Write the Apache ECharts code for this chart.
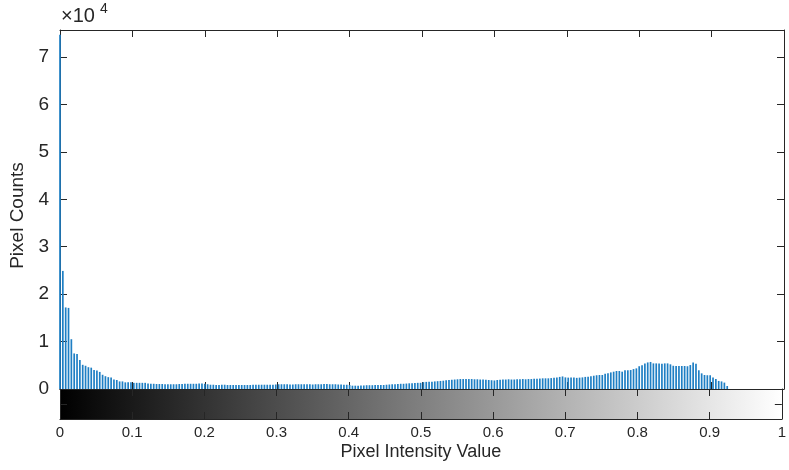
<!DOCTYPE html>
<html>
<head>
<meta charset="utf-8">
<script src="https://cdn.jsdelivr.net/npm/echarts@6/dist/echarts.min.js"></script>
<style>
  html, body { margin: 0; padding: 0; background: #fff; }
  #chart { width: 789px; height: 470px; }
</style>
</head>
<body>
<div id="chart"></div>
<script>
// histogram counts, 256 bins over [0, 1]; split into runs by intensity band
const countsDark = [74700, 24900, 17200, 17100, 10500, 7500, 7400, 6100, 5100, 4900,
  4600, 4500, 4000, 3900, 3600, 3000, 2700, 2500, 2400, 2000,
  1900, 1600, 1600, 1400, 1400, 1400, 1300, 1300, 1300, 1300, 1300]
const countsLow = [1150, 1100, 1100, 1050, 1050, 1050, 1000, 1000, 1000, 1000,
  1000, 1050, 1050, 1100, 1100, 1100, 1100, 1100, 1150, 1150, 1100]
const countsMidLow = [1000, 900, 900, 850, 850, 900, 900, 850, 850, 850,
  850, 850, 850, 850, 850, 850, 900, 900, 900, 900,
  900, 900, 900, 900, 950]
const countsMid = [1000, 1000, 1000, 1000, 950, 950, 1000, 1000, 1000, 1000,
  1000, 1000, 950, 1000, 1000, 1000, 1050, 1050, 1000, 1000,
  1000, 950, 950, 900, 900, 850]
const countsDip = [700, 700, 700, 750, 750, 800, 800, 800, 850, 850, 850, 850, 900,
  950, 1000, 1000, 1050, 1100, 1100, 1150, 1200, 1200, 1250, 1300, 1300]
const countsMidHigh = [1450, 1500, 1550, 1550, 1600, 1650, 1700, 1750, 1850, 1900,
  1950, 2000, 2050, 2100, 2100, 2100, 2100, 2100, 2050, 2050,
  2000, 2000, 1950, 1900, 1850, 1800]
const countsLight = [1900, 1950, 2000, 2000, 2050, 2000, 2000, 2050, 2050, 2100,
  2050, 2100, 2100, 2150, 2150, 2200, 2250, 2250, 2250, 2300,
  2350, 2450, 2550, 2650, 2450,
  2400, 2400, 2400, 2350, 2400, 2450, 2550, 2600, 2700, 2800, 2900]
const countsBright = [2950, 2950, 3230, 3300, 3500, 3650, 3800, 3800, 3650, 3950,
  3950, 4000, 4200, 4350, 4800, 5000, 5400, 5600, 5700, 5400,
  5400, 5400, 5350, 5400, 5400, 5200, 4900, 4850, 4850, 4850,
  4850, 4800, 5050, 5600, 5300, 3950, 3300, 2950, 2900, 2900,
  2450, 2100, 1700, 1600, 1350, 630]
const countsWhite = [0, 0, 0, 0, 0, 0, 0, 0, 0, 0, 0, 0, 0, 0, 0, 0, 0, 0, 0, 0]

const xTickLabels = ['0', '0.1', '0.2', '0.3', '0.4', '0.5', '0.6', '0.7', '0.8', '0.9', '1']
const yTickLabels = ['0', '1', '2', '3', '4', '5', '6', '7']

const counts = [].concat(countsDark, countsLow, countsMidLow, countsMid, countsDip,
  countsMidHigh, countsLight, countsBright, countsWhite)
const nBins = counts.length
const histData = counts.map((c, i) => [i / (nBins - 1), c])

const textColor = '#262626'
const font = 'Liberation Sans, Arial, Helvetica, sans-serif'

const chart = echarts.init(document.getElementById('chart'), null, { renderer: 'canvas' })

const tickStyle = { show: true, inside: true, length: 7, lineStyle: { color: textColor, width: 1 } }
const lineStyle = { show: true, onZero: false, lineStyle: { color: textColor, width: 1 } }

chart.setOption({
  animation: false,
  textStyle: { fontFamily: font },
  graphic: [
    { type: 'text', left: 61, top: 6, z: 10, style: { text: '×10', fontSize: 20, fontFamily: font, fill: textColor } },
    { type: 'text', left: 100, top: 2, z: 10, style: { text: '4', fontSize: 14, fontFamily: font, fill: textColor } }
  ],
  grid: [
    { left: 60, right: 5, top: 30, height: 359 },
    { left: 60, right: 5, top: 389, height: 30 }
  ],
  xAxis: [
    {
      gridIndex: 0, type: 'value', min: 0, max: 1, interval: 0.1, position: 'bottom', z: 5,
      axisLine: lineStyle, axisTick: tickStyle, axisLabel: { show: false }, splitLine: { show: false }
    },
    {
      gridIndex: 0, type: 'value', min: 0, max: 1, interval: 0.1, position: 'top', z: 5,
      axisLine: lineStyle, axisTick: tickStyle, axisLabel: { show: false }, splitLine: { show: false }
    },
    {
      gridIndex: 1, type: 'value', min: 0, max: 1, interval: 0.1, position: 'bottom', z: 5,
      axisLine: lineStyle, axisTick: tickStyle, splitLine: { show: false },
      axisLabel: {
        margin: 6, fontSize: 15, color: textColor, fontFamily: font,
        formatter: v => xTickLabels[Math.round(v * 10)]
      },
      name: 'Pixel Intensity Value', nameLocation: 'middle', nameGap: 24,
      nameTextStyle: { fontSize: 18, color: textColor, fontFamily: font }
    },
    {
      gridIndex: 1, type: 'value', min: 0, max: 1, interval: 0.1, position: 'top', z: 5,
      axisLine: lineStyle, axisTick: tickStyle, axisLabel: { show: false }, splitLine: { show: false }
    }
  ],
  yAxis: [
    {
      gridIndex: 0, type: 'value', min: 0, max: 75700, interval: 10000, position: 'left', z: 5,
      axisLine: lineStyle, axisTick: tickStyle, splitLine: { show: false },
      axisLabel: {
        margin: 11, fontSize: 19, color: textColor, fontFamily: font, showMaxLabel: false,
        formatter: v => yTickLabels[Math.round(v / 10000)] || ''
      },
      name: 'Pixel Counts', nameLocation: 'middle', nameGap: 30, nameRotate: 90,
      nameTextStyle: { fontSize: 19, color: textColor, fontFamily: font, padding: [0, 12, 0, 0] }
    },
    {
      gridIndex: 0, type: 'value', min: 0, max: 75700, interval: 10000, position: 'right', z: 5,
      axisLine: lineStyle, axisTick: tickStyle, axisLabel: { show: false }, splitLine: { show: false }
    },
    {
      gridIndex: 1, type: 'value', min: 0, max: 1, interval: 0.5, position: 'left', z: 5,
      axisLine: lineStyle, axisTick: tickStyle, axisLabel: { show: false }, splitLine: { show: false }
    },
    {
      gridIndex: 1, type: 'value', min: 0, max: 1, interval: 0.5, position: 'right', z: 5,
      axisLine: lineStyle, axisTick: tickStyle, axisLabel: { show: false }, splitLine: { show: false }
    }
  ],
  series: [
    {
      type: 'bar',
      xAxisIndex: 0,
      yAxisIndex: 0,
      barWidth: 1.7,
      z: 6,
      silent: true,
      itemStyle: { color: '#1f7fc4' },
      data: histData
    },
    {
      // grayscale colorbar under the histogram
      type: 'line',
      xAxisIndex: 2,
      yAxisIndex: 2,
      z: 1,
      silent: true,
      showSymbol: false,
      lineStyle: { opacity: 0 },
      data: [[0, 0], [1, 1]],
      markArea: {
        silent: true,
        itemStyle: {
          opacity: 1,
          color: new echarts.graphic.LinearGradient(0, 0, 1, 0, [
            { offset: 0, color: '#000000' },
            { offset: 1, color: '#ffffff' }
          ])
        },
        data: [[{ coord: [0, 0] }, { coord: [1, 1] }]]
      }
    }
  ]
})
</script>
</body>
</html>
